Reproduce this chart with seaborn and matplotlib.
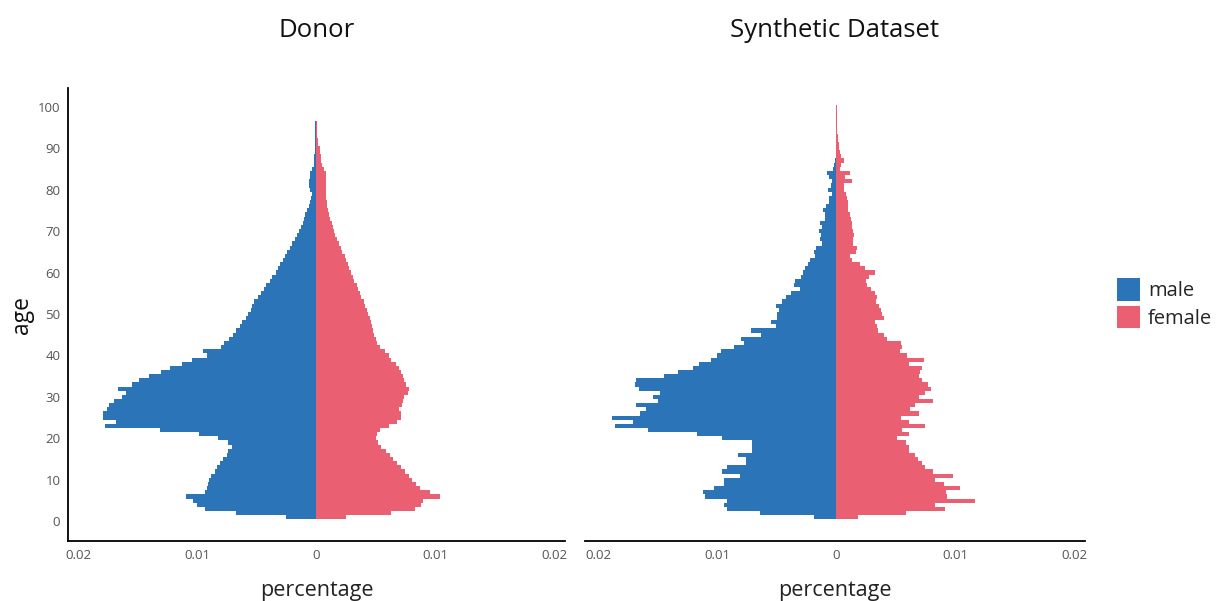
import numpy as np
import pandas as pd
import seaborn as sns
import matplotlib.pyplot as plt
from matplotlib.patches import Patch

# ages 1..100, share of population per single year of age
ages = list(range(1, 101))

donor_male = [
    0.0025, 0.0067, 0.0093, 0.0100, 0.0103, 0.0109, 0.0093, 0.0092, 0.0091, 0.0090,
    0.0088, 0.0085, 0.0083, 0.0081, 0.0078, 0.0075, 0.0074, 0.0071, 0.0074, 0.0082,
    0.0098, 0.0131, 0.0177, 0.0168, 0.0179, 0.0179, 0.0176, 0.0174, 0.0170, 0.0163,
    0.0160, 0.0166, 0.0155, 0.0149, 0.0140, 0.0130, 0.0123, 0.0113, 0.0104, 0.0092,
    0.0095, 0.0080, 0.0077, 0.0073, 0.0070, 0.0067, 0.0064, 0.0062, 0.0059, 0.0057,
    0.0055, 0.0054, 0.0052, 0.0049, 0.0046, 0.0044, 0.0042, 0.0039, 0.0037, 0.0034,
    0.0032, 0.0030, 0.0028, 0.0026, 0.0024, 0.0022, 0.0020, 0.0018, 0.0016, 0.0014,
    0.0013, 0.0011, 0.0010, 0.0009, 0.0008, 0.0006, 0.0005, 0.0004, 0.0003, 0.0005,
    0.0006, 0.0006, 0.0005, 0.0005, 0.0003, 0.0002, 0.0002, 0.0002, 0.0001, 0.0001,
    0.0001, 0.0001, 0.0001, 0.00008, 0.00006, 0.00005, 0.00002, 0.00002, 0.00001, 0.00001,
]
donor_female = [
    0.0025, 0.0063, 0.0083, 0.0088, 0.0090, 0.0104, 0.0096, 0.0087, 0.0084, 0.0081,
    0.0078, 0.0075, 0.0071, 0.0068, 0.0065, 0.0062, 0.0059, 0.0055, 0.0052, 0.0050,
    0.0051, 0.0054, 0.0061, 0.0068, 0.0071, 0.0071, 0.0070, 0.0072, 0.0073, 0.0074,
    0.0077, 0.0078, 0.0076, 0.0074, 0.0073, 0.0071, 0.0070, 0.0067, 0.0063, 0.0061,
    0.0058, 0.0054, 0.0051, 0.0050, 0.0049, 0.0048, 0.0047, 0.0046, 0.0045, 0.0044,
    0.0043, 0.0041, 0.0040, 0.0038, 0.0037, 0.0035, 0.0034, 0.0032, 0.0031, 0.0029,
    0.0028, 0.0027, 0.0025, 0.0024, 0.0022, 0.0021, 0.0019, 0.0018, 0.0016, 0.0015,
    0.0014, 0.0013, 0.0012, 0.0011, 0.0010, 0.0009, 0.0009, 0.0008, 0.0008, 0.0008,
    0.0008, 0.0008, 0.0008, 0.0008, 0.0007, 0.0005, 0.0004, 0.0004, 0.0003, 0.0003,
    0.0002, 0.0002, 0.0001, 0.0001, 0.0001, 0.00005, 0.00002, 0.00002, 0.00001, 0.00001,
]
synth_male = [
    0.0019, 0.0064, 0.0092, 0.0094, 0.0092, 0.0110, 0.0112, 0.0103, 0.0094, 0.0094,
    0.0081, 0.0096, 0.0092, 0.0076, 0.0076, 0.0083, 0.0071, 0.0071, 0.0071, 0.0096,
    0.0117, 0.0158, 0.0186, 0.0171, 0.0188, 0.0165, 0.0160, 0.0168, 0.0150, 0.0154,
    0.0148, 0.0166, 0.0169, 0.0168, 0.0145, 0.0133, 0.0120, 0.0115, 0.0105, 0.0100,
    0.0097, 0.0086, 0.0078, 0.0080, 0.0063, 0.0072, 0.0051, 0.0055, 0.0050, 0.0050,
    0.0048, 0.0051, 0.0046, 0.0042, 0.0038, 0.0031, 0.0036, 0.0035, 0.0030, 0.0028,
    0.0026, 0.0024, 0.0022, 0.0018, 0.0019, 0.0017, 0.0012, 0.0014, 0.0013, 0.0015,
    0.0012, 0.0014, 0.0010, 0.0010, 0.0011, 0.0009, 0.0006, 0.0006, 0.0004, 0.0007,
    0.0005, 0.0004, 0.0006, 0.0008, 0.0003, 0.0002, 0.0001, 0.00005, 0.00005, 0.00005,
    0.00005, 0.00005, 0.00005, 0.00005, 0.00005, 0.00005, 0.00002, 0.00002, 0.00002, 0.00002,
]
synth_female = [
    0.0018, 0.0058, 0.0091, 0.0083, 0.0116, 0.0093, 0.0092, 0.0104, 0.0090, 0.0083,
    0.0098, 0.0081, 0.0074, 0.0072, 0.0068, 0.0066, 0.0061, 0.0061, 0.0058, 0.0051,
    0.0061, 0.0055, 0.0074, 0.0061, 0.0054, 0.0069, 0.0062, 0.0066, 0.0081, 0.0069,
    0.0074, 0.0079, 0.0077, 0.0072, 0.0069, 0.0070, 0.0072, 0.0061, 0.0073, 0.0059,
    0.0053, 0.0055, 0.0054, 0.0042, 0.0040, 0.0035, 0.0034, 0.0032, 0.0040, 0.0038,
    0.0037, 0.0036, 0.0033, 0.0034, 0.0032, 0.0029, 0.0026, 0.0025, 0.0027, 0.0032,
    0.0024, 0.0020, 0.0013, 0.0011, 0.0016, 0.0017, 0.0014, 0.0014, 0.0015, 0.0014,
    0.0013, 0.0013, 0.0012, 0.0011, 0.0010, 0.0010, 0.0010, 0.0009, 0.0008, 0.0006,
    0.0006, 0.0013, 0.0007, 0.0011, 0.0003, 0.0004, 0.0006, 0.0004, 0.0003, 0.0002,
    0.0002, 0.0001, 0.0001, 0.00005, 0.00005, 0.00005, 0.00002, 0.00002, 0.00002, 0.00002,
]

sexes = ["male", "female"]
colors = {"male": "#2b74b7", "female": "#ea5f72"}
x_ticks = [-0.02, -0.01, 0, 0.01, 0.02]
x_ticklabels = ["0.02", "0.01", "0", "0.01", "0.02"]
y_ticks = list(range(0, 101, 10))


def pyramid_df(male, female):
    return pd.DataFrame({
        "age": ages + ages,
        "percentage": [-v for v in male] + list(female),
        "sex": ["male"] * len(ages) + ["female"] * len(ages),
    })


sns.set_style("white")
plt.rcParams["font.family"] = ["Open Sans", "DejaVu Sans"]

fig = plt.figure(figsize=(12.23, 6.01), dpi=100)
ax1 = fig.add_axes([0.0556, 0.0998, 0.4064, 0.7538])
ax2 = fig.add_axes([0.4783, 0.0998, 0.4088, 0.7538])

panels = [
    (ax1, donor_male, donor_female, "Donor", (-0.02084, 0.02092)),
    (ax2, synth_male, synth_female, "Synthetic Dataset", (-0.0211, 0.02084)),
]

for ax, male, female, title, xlim in panels:
    df = pyramid_df(male, female)
    sns.barplot(data=df, x="percentage", y="age", hue="sex", hue_order=sexes,
                palette=colors, orient="y", native_scale=True, dodge=False,
                width=1.0, saturation=1, errorbar=None, linewidth=0,
                legend=False, ax=ax)
    ax.set_xlim(*xlim)
    ax.set_ylim(-4.75, 104.5)
    ax.set_xticks(x_ticks)
    ax.set_xticklabels(x_ticklabels)
    ax.set_xlabel("percentage", fontsize=15.5, color="#222222", labelpad=13)
    ax.tick_params(axis="both", length=3.5, width=1, color="#333333",
                   labelsize=9.5, labelcolor="#555555", pad=2)
    for s in ["top", "right"]:
        ax.spines[s].set_visible(False)
    ax.spines["bottom"].set_color("black")
    ax.spines["bottom"].set_linewidth(1.3)
    x_mid = ax.get_position().x0 + ax.get_position().width / 2
    fig.text(x_mid, 0.95, title, ha="center", va="center", fontsize=18.5,
             color="#111111")

ax1.set_yticks(y_ticks)
ax1.set_ylabel("age", fontsize=16.5, color="#111111", labelpad=3)
ax1.spines["left"].set_color("black")
ax1.spines["left"].set_linewidth(1.3)

ax2.spines["left"].set_visible(False)
ax2.set_yticks([])
ax2.set_ylabel("")

handles = [Patch(facecolor=colors[s], edgecolor="none", label=s) for s in sexes]
fig.legend(handles=handles, loc="center left", bbox_to_anchor=(0.913, 0.495),
           frameon=False, fontsize=14.5, handlelength=1.15, handleheight=1.35,
           handletextpad=0.4, labelspacing=0.2, borderaxespad=0, borderpad=0)

fig.savefig("out.png", dpi=100)
